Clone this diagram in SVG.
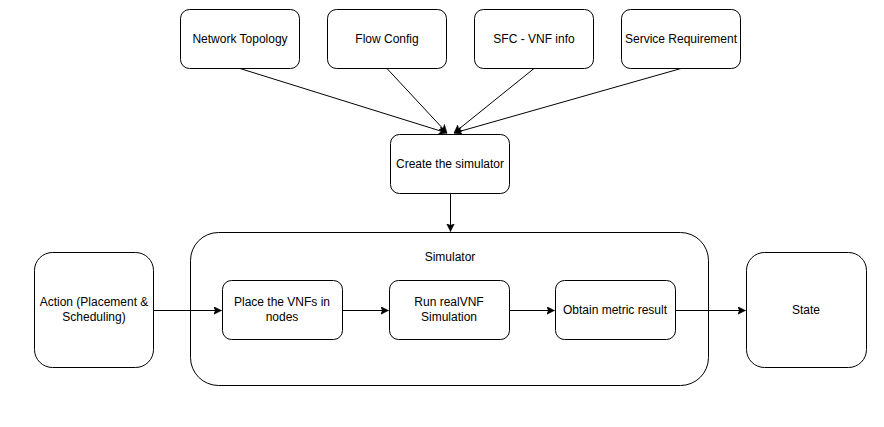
<svg xmlns="http://www.w3.org/2000/svg" width="884" height="427" viewBox="0 0 884 427">
<style>
.n{fill:#fff;stroke:#000;stroke-width:1}
.t{font-family:"Liberation Sans",Arial,sans-serif;font-size:12px;fill:#000;text-anchor:middle}
.c{fill:none;stroke:#000;stroke-width:1}
</style>
<defs>
<marker id="a" markerWidth="10" markerHeight="10" refX="8" refY="4" orient="auto" markerUnits="userSpaceOnUse">
<path d="M0,0 L8,4 L0,8 L2,4 Z" fill="#000" stroke="#000" stroke-width="0.5"/>
</marker>
</defs>
<rect width="884" height="427" fill="#fff"/>
<g id="simulator"><rect class="n" x="190.5" y="232.5" width="518" height="153" rx="28"/><text class="t" x="450" y="261">Simulator</text></g>
<g id="network-topology"><rect class="n" x="180.5" y="9.5" width="119" height="59" rx="9"/><text class="t" x="240" y="43">Network Topology</text></g>
<g id="flow-config"><rect class="n" x="327.5" y="9.5" width="119" height="59" rx="9"/><text class="t" x="387" y="43">Flow Config</text></g>
<g id="sfc-vnf"><rect class="n" x="474.5" y="9.5" width="119" height="59" rx="9"/><text class="t" x="534" y="43">SFC - VNF info</text></g>
<g id="service-req"><rect class="n" x="621.5" y="9.5" width="119" height="59" rx="9"/><text class="t" x="681" y="43">Service Requirement</text></g>
<g id="create"><rect class="n" x="390.5" y="134.5" width="119" height="59" rx="9"/><text class="t" x="450" y="168">Create the simulator</text></g>
<g id="action"><rect class="n" x="34.5" y="252.5" width="119" height="115" rx="18"/><text class="t" x="94" y="306">Action (Placement &amp;</text><text class="t" x="94" y="321">Scheduling)</text></g>
<g id="place"><rect class="n" x="222.5" y="280.5" width="120" height="59" rx="9"/><text class="t" x="282" y="306">Place the VNFs in</text><text class="t" x="282" y="321">nodes</text></g>
<g id="run"><rect class="n" x="389.5" y="280.5" width="120" height="59" rx="9"/><text class="t" x="449" y="306">Run realVNF</text><text class="t" x="449" y="321">Simulation</text></g>
<g id="obtain"><rect class="n" x="555.5" y="280.5" width="120" height="59" rx="9"/><text class="t" x="615" y="314">Obtain metric result</text></g>
<g id="state"><rect class="n" x="746.5" y="252.5" width="120" height="115" rx="18"/><text class="t" x="806" y="314">State</text></g>
<g id="connectors">
<line class="c" x1="240" y1="68.5" x2="447" y2="133" marker-end="url(#a)"/>
<line class="c" x1="387" y1="68.5" x2="447" y2="133" marker-end="url(#a)"/>
<line class="c" x1="534" y1="68.5" x2="454" y2="133" marker-end="url(#a)"/>
<line class="c" x1="681" y1="68.5" x2="454" y2="133" marker-end="url(#a)"/>
<line class="c" x1="450.5" y1="193.5" x2="450.5" y2="231.5" marker-end="url(#a)"/>
<line class="c" x1="153.5" y1="310.5" x2="221.5" y2="310.5" marker-end="url(#a)"/>
<line class="c" x1="342.5" y1="310.5" x2="388.5" y2="310.5" marker-end="url(#a)"/>
<line class="c" x1="509.5" y1="310.5" x2="554.5" y2="310.5" marker-end="url(#a)"/>
<line class="c" x1="675.5" y1="310.5" x2="745.5" y2="310.5" marker-end="url(#a)"/>
</g>
</svg>
